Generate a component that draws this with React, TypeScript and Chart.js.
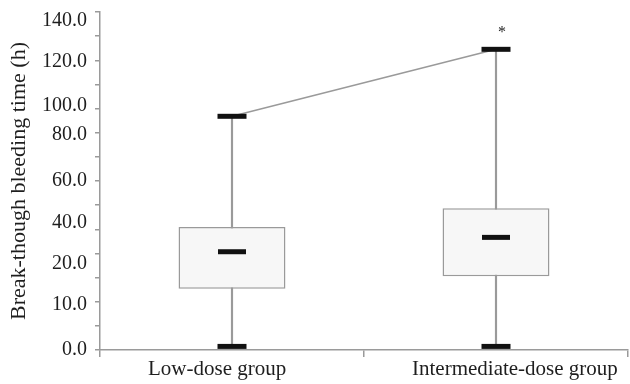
import React, { useEffect, useRef } from 'react';
import { Chart, registerables, LinearScale } from 'chart.js';

Chart.register(...registerables);

// ---------- data ----------
const categories = ['Low-dose group', 'Intermediate-dose group'];
const minValues = [0.8, 0.8];
const q1Values = [14, 17];
const medianValues = [26, 33];
const q3Values = [38, 47];
const maxValues = [93, 126];
const significance = ['', '*'];
const yTickValues = [0, 10, 20, 40, 60, 80, 100, 120, 140];
const yTickLabels = ['0.0', '10.0', '20.0', '40.0', '60.0', '80.0', '100.0', '120.0', '140.0'];
const yTitle = 'Break-though bleeding time (h)';

// ---------- axis layout (the published axis is not linear) ----------
// Position of each labelled value, in units of the evenly spaced minor ticks.
const AXIS_UNITS = 14;
const anchorUnits = [0, 1.86, 3.56, 5.26, 7.0, 8.9, 10.1, 11.95, 13.63, 14];
const anchorValues = [...yTickValues, 144.4];

function interp(x: number, xs: number[], ys: number[]) {
  let i = 0;
  while (i < xs.length - 2 && x > xs[i + 1]) i++;
  const t = (x - xs[i]) / (xs[i + 1] - xs[i]);
  return ys[i] + t * (ys[i + 1] - ys[i]);
}
const valueToUnit = (v: number) => interp(v, anchorValues, anchorUnits);
const unitToValue = (u: number) => interp(u, anchorUnits, anchorValues);

class SegmentedScale extends LinearScale {
  static id = 'segmented';
  static defaults = LinearScale.defaults;
  determineDataLimits() {
    (this as any).min = 0;
    (this as any).max = anchorValues[anchorValues.length - 1];
  }
  buildTicks() {
    const ticks: any[] = [];
    for (let k = 0; k <= AXIS_UNITS; k++) ticks.push({ value: unitToValue(k), kind: 'minor' });
    yTickValues.forEach((v, i) => ticks.push({ value: v, kind: 'label', text: yTickLabels[i] }));
    ticks.sort((a, b) => a.value - b.value);
    return ticks;
  }
  getPixelForValue(value: number) {
    if (value === null || value === undefined || isNaN(value)) return NaN;
    return (this as any).getPixelForDecimal(valueToUnit(value) / AXIS_UNITS);
  }
  getValueForPixel(pixel: number) {
    return unitToValue((this as any).getDecimalForPixel(pixel) * AXIS_UNITS);
  }
}
Chart.register(SegmentedScale as any);

const AXIS_GREY = '#9a9a9a';
const TEXT = '#1e1e1e';
const FONT_FAMILY = "'Liberation Serif', 'DejaVu Serif', serif";

const asteriskPlugin = {
  id: 'asterisk',
  afterDatasetsDraw(chart: any) {
    const { ctx } = chart;
    const x = chart.scales.x;
    const y = chart.scales.y;
    ctx.save();
    ctx.fillStyle = TEXT;
    ctx.font = `16px ${FONT_FAMILY}`;
    ctx.textAlign = 'center';
    ctx.textBaseline = 'middle';
    significance.forEach((mark, i) => {
      if (!mark) return;
      ctx.fillText(mark, x.getPixelForValue(i) + 6, y.getPixelForValue(maxValues[i]) - 17);
    });
    ctx.restore();
  },
};

export default function App() {
  const canvasRef = useRef<HTMLCanvasElement | null>(null);

  useEffect(() => {
    if (!canvasRef.current) return;
    const chart = new Chart(canvasRef.current, {
      type: 'bar',
      data: {
        labels: categories,
        datasets: [
          {
            type: 'bar',
            label: 'whisker',
            data: categories.map((_, i) => [minValues[i], maxValues[i]]) as any,
            backgroundColor: AXIS_GREY,
            borderWidth: 0,
            barThickness: 1.5,
            grouped: false,
            order: 4,
          } as any,
          {
            type: 'bar',
            label: 'box',
            data: categories.map((_, i) => [q1Values[i], q3Values[i]]) as any,
            backgroundColor: '#f7f7f7',
            borderColor: AXIS_GREY,
            borderWidth: 1.5,
            borderSkipped: false,
            barPercentage: 0.405,
            categoryPercentage: 1,
            grouped: false,
            order: 3,
          } as any,
          {
            type: 'line',
            label: 'max',
            data: maxValues,
            borderColor: AXIS_GREY,
            borderWidth: 1.5,
            pointStyle: 'line',
            pointRadius: 14.5,
            pointHoverRadius: 14.5,
            pointBorderWidth: 5,
            pointBorderColor: '#111',
            pointBackgroundColor: '#111',
            clip: false,
            order: 1,
          } as any,
          {
            type: 'line',
            label: 'median',
            data: medianValues,
            showLine: false,
            pointStyle: 'line',
            pointRadius: 14,
            pointBorderWidth: 5,
            pointBorderColor: '#111',
            pointBackgroundColor: '#111',
            clip: false,
            order: 1,
          } as any,
          {
            type: 'line',
            label: 'min',
            data: minValues,
            showLine: false,
            pointStyle: 'line',
            pointRadius: 14.5,
            pointBorderWidth: 5,
            pointBorderColor: '#111',
            pointBackgroundColor: '#111',
            clip: false,
            order: 1,
          } as any,
        ],
      },
      options: {
        responsive: false,
        animation: false,
        layout: { autoPadding: false, padding: { top: 12, right: 2, left: 0, bottom: 0 } },
        plugins: {
          legend: { display: false },
          tooltip: { enabled: false },
        },
        scales: {
          x: {
            type: 'category',
            offset: true,
            grid: {
              offset: true,
              drawOnChartArea: false,
              color: AXIS_GREY,
              lineWidth: 1.5,
              tickLength: 7,
            },
            border: { display: true, color: AXIS_GREY, width: 1.5 },
            ticks: {
              color: TEXT,
              font: { family: FONT_FAMILY, size: 21 },
              align: 'start',
              labelOffset: -84,
              padding: 0,
              maxRotation: 0,
              autoSkip: false,
            },
            afterFit: (s: any) => {
              s.height = 34;
              s.paddingLeft = 0;
              s.paddingRight = 0;
            },
          },
          y: {
            type: 'segmented' as any,
            grid: {
              drawOnChartArea: false,
              color: AXIS_GREY,
              lineWidth: 1.5,
              tickLength: 5,
              tickColor: (ctx: any) => (ctx.tick && ctx.tick.kind === 'label' ? 'rgba(0,0,0,0)' : AXIS_GREY),
            },
            border: { display: true, color: AXIS_GREY, width: 1.5 },
            ticks: {
              color: TEXT,
              font: { family: FONT_FAMILY, size: 20 },
              padding: 8,
              autoSkip: false,
              callback: function (this: any, _v: any, index: number, ticks: any[]) {
                const t = ticks[index];
                return t && t.kind === 'label' ? t.text : '';
              },
            },
            title: {
              display: true,
              text: yTitle,
              color: TEXT,
              font: { family: FONT_FAMILY, size: 22 },
              padding: { top: 6, bottom: 0 },
            },
            afterFit: (s: any) => {
              s.width = 100;
              s.paddingTop = 0;
              s.paddingBottom = 0;
            },
          } as any,
        },
      },
      plugins: [asteriskPlugin],
    });
    return () => chart.destroy();
  }, []);

  return (
    <div style={{ position: 'fixed', left: 0, top: 0, width: 630, height: 384, background: '#fff' }}>
      <canvas ref={canvasRef} width={630} height={384} style={{ display: 'block' }} />
    </div>
  );
}
